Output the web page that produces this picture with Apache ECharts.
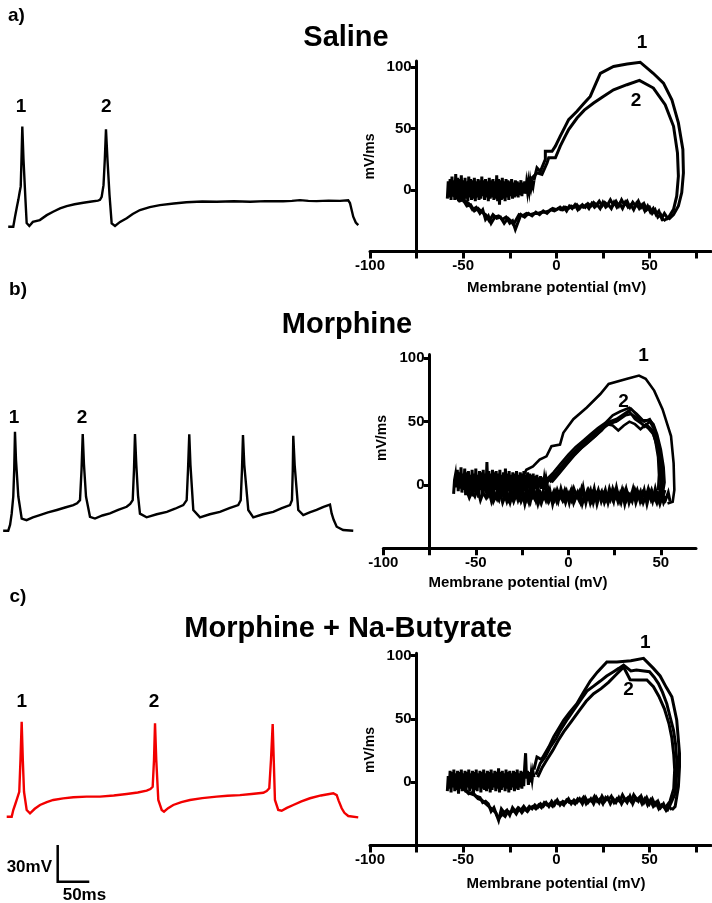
<!DOCTYPE html>
<html>
<head>
<meta charset="utf-8">
<script src="https://cdn.jsdelivr.net/npm/echarts@6/dist/echarts.min.js"></script>
<style>
html, body { margin: 0; padding: 0; background: #fff; }
#chart { width: 712px; height: 903px; }
</style>
</head>
<body>
<div id="chart"></div>
<script>
// ---- voltage traces: [time (ms), membrane potential (mV)] ----
const traceSaline = [[13,-70],[21,-70],[23.7,-62],[27,-53],[29,-48],[31,-42],[32.8,-37],[34,-15],[35.3,12],[37.2,-15],[40.3,-48],[42.2,-67],[46.4,-69.4],[52,-66],[63,-64.5],[74,-60.5],[84,-57.7],[95,-55],[105.5,-53.1],[118,-51.6],[131.8,-50.4],[145,-49.3],[155,-48.6],[158.2,-48],[160.9,-45.5],[163.8,-36],[165.8,-15.5],[167.7,9.6],[170.1,-15.5],[173.3,-44],[176.7,-67.2],[182,-69.4],[190,-66],[200.5,-63],[210,-59.5],[221.5,-56.3],[237,-54],[253,-52.3],[275,-51],[295,-50],[320,-49.4],[343,-49.6],[370,-49.2],[396,-49.6],[420,-49],[448,-49.2],[462,-48.8],[474.7,-48.2],[488,-48.8],[501,-49],[520,-48.6],[538,-48.8],[551,-48.4],[553.8,-50.6],[559,-61.8],[563,-66.5],[567,-68.6]]
const traceMorphine = [[5,-70],[13,-70],[16,-65],[18.5,-56],[21,-42],[22.5,-20],[23.7,11],[25.3,-12],[29,-42],[34.3,-60],[42,-61.3],[52,-59],[63,-57.2],[76,-55],[90,-53],[103,-51],[116,-49],[122,-47.5],[126.6,-45],[129,-20.4],[130.9,9],[132.9,-16],[136.1,-42],[142.4,-58.6],[150.3,-60],[162,-57.5],[174,-55.8],[187,-53],[200.5,-50.4],[206,-48],[210,-45],[212,-20.4],[213.6,9],[215.7,-16],[218.4,-41],[221.5,-56],[232,-59],[248,-56.5],[264,-54.5],[277,-52],[290,-49],[293,-47.5],[295.4,-45],[297.5,-20.4],[299.5,8.8],[301.4,-16.3],[305.9,-53],[316.5,-59],[332,-56.5],[348,-54.5],[363,-51.5],[377,-49],[380.9,-45],[382.9,-20.4],[384.5,8.2],[386.6,-16.3],[392.9,-53],[400.8,-59],[416,-56.5],[432.4,-54.5],[446,-51.5],[458.9,-49],[462,-45],[463.3,-20.4],[464.1,7.7],[466.3,-16.3],[472,-53],[479.9,-57.2],[490,-55],[501,-53],[512,-50.5],[522.2,-48.6],[524.8,-55.8],[528,-61],[532.8,-66.7],[543,-69.4],[559,-70]]
const traceButyrate = [[10.6,-70],[18.5,-70],[21,-64.5],[24,-60],[26.4,-56.3],[30.5,-49.6],[32.4,-23.6],[34.3,7.7],[36.1,-23.6],[38,-49.6],[42.2,-64.5],[47.5,-67.2],[55,-63.5],[63.3,-60.4],[74,-58],[84.3,-56.3],[100,-55],[116,-54.1],[137,-53.6],[158.2,-53.6],[180,-52.6],[200.5,-51.4],[218,-50.2],[232.1,-48.7],[238,-47.4],[241.6,-45.5],[243.7,-23.6],[245.3,6.4],[247.3,-23.6],[250.5,-56.3],[255.9,-64.5],[259.5,-65.9],[266,-63],[274.2,-60.4],[287,-58],[300.6,-56.3],[320,-54.8],[342.9,-53.6],[360,-52.8],[379.7,-52.3],[398,-51.4],[416.6,-50.4],[422,-49],[426.1,-46.8],[428.8,-23.6],[431.5,5.8],[433.2,-23.6],[435.1,-56.3],[440.3,-64.5],[445.7,-65.1],[454,-62.8],[464.1,-60.4],[477,-57.5],[490.5,-54.9],[508,-52.6],[527.4,-50.8],[532.8,-52.3],[536,-57],[540.7,-63.1],[545,-66.8],[551.1,-69.4],[566.9,-70.5]]

// spike numbers above the traces: [ms, mV, text]
const traceTagsSaline = [[33.2,28.4,'1'],[168.2,28.4,'2']]
const traceTagsMorphine = [[22.4,22.5,'1'],[130,22.5,'2']]
const traceTagsButyrate = [[34.3,24,'1'],[243.7,24,'2']]

// scale bar
const scaleBarMv = 30
const scaleBarMs = 50

// ---- phase plots: [membrane potential (mV), dV/dt (mV/ms)] ----
// Saline
const restSaline = [[-58.5,-7],[-58,7],[-57.5,-6],[-57,9],[-56.5,-8],[-56,11],[-55.5,-5],[-55,8],[-54.5,-8],[-54,13],[-53.5,-5],[-53,10],[-52.5,-9],[-52,9],[-51.5,-6],[-51,12],[-50.5,-8],[-50,8],[-49.5,-10],[-49,10],[-48.5,-7],[-48,7],[-47.5,-9],[-47,11],[-46.5,-6],[-46,9],[-45.5,-8],[-45,8],[-44.5,-7],[-44,10],[-43.5,-9],[-43,7],[-42.5,-6],[-42,9],[-41.5,-8],[-41,8],[-40.5,-7],[-40,11],[-39.5,-5],[-39,8],[-38.5,-8],[-38,9],[-37.5,-6],[-37,7],[-36.5,-9],[-36,10],[-35.5,-7],[-35,8],[-34.5,-6],[-34,9],[-33.5,-8],[-33,7],[-32.5,-7],[-32,12],[-31.5,-9],[-31,9],[-30.5,-12],[-30,8],[-29.5,-8],[-29,10],[-28.5,-7],[-28,7],[-27.5,-9],[-27,9],[-26.5,-6],[-26,8],[-25.5,-8],[-25,7],[-24.5,-5],[-24,9],[-23.5,-7],[-23,6],[-22.5,-6],[-22,8],[-21.5,-5],[-21,7],[-20.5,-6],[-20,6],[-19.5,-4],[-19,8],[-18.5,-5],[-18,6],[-17.5,-3],[-17,7],[-16.5,-3],[-16,5],[-15.5,-1],[-15,6],[-14.5,0],[-14,7],[-13.5,2],[-13,6],[-12.5,3],[-12,8]]
const spike1Saline = [[-12,8],[-10.4,18],[-8.6,15],[-5.9,25],[-5.9,31.6],[-2.3,31.6],[-0.5,35.7],[2.1,43.8],[4.5,51],[6.6,57.3],[11.1,64.1],[14.5,70],[18.2,76.2],[21,86],[23.6,95],[30.7,100.5],[38,102.5],[45,104],[52,95],[57.5,87],[62,73.5],[65.5,54.6],[67.9,33],[68.2,14],[67.3,-2],[65.5,-13],[62.9,-20],[60.2,-24]]
const spike2Saline = [[-13.9,8.6],[-10.4,14],[-7.7,12.7],[-5,22],[-4.1,26.2],[-0.5,26.2],[2.1,35.7],[4.5,43],[6.6,49.2],[11.1,58.6],[15,65],[20,70.8],[25,76],[30.7,81.6],[37.9,85.7],[44.6,89.2],[52.1,83],[58.4,69.5],[62.9,51.9],[65,30.3],[65.5,11.4],[64.6,-5],[62.9,-15.7],[60.2,-22.4],[57.5,-25]]
const return1Saline = [[60.2,-24],[58,-19],[56.5,-23],[55,-17],[53.5,-20],[52,-15],[50.5,-18],[49,-13],[47.5,-17],[46,-12],[44.5,-15],[43,-11],[41.5,-16],[40,-12],[38.5,-14],[37,-10],[35.5,-15],[34,-11],[32.5,-14],[31,-10],[29.5,-15],[28,-12],[26.5,-14],[25,-10],[23.5,-15],[22,-12],[20.5,-14],[19,-11],[17.5,-15],[16,-12],[14.5,-14],[13,-13],[11.5,-16],[10,-12],[8.5,-15],[7,-13],[5.5,-17],[4,-14],[2.5,-16],[1,-15],[-1,-17],[-3,-16],[-5,-19],[-7,-17],[-9,-20],[-11,-18],[-13,-21],[-15,-19],[-17,-22],[-19,-20],[-20.5,-26],[-22,-32],[-23.5,-25],[-25,-27],[-27,-22],[-29,-24],[-31,-21],[-33,-22],[-35,-27],[-36.5,-21],[-38,-24],[-39.5,-16],[-41,-19],[-43,-14],[-45,-16],[-47,-11],[-49,-9],[-51,-7],[-53,-5],[-55,-3],[-57,-1]]
const return2Saline = [[57.5,-25],[56,-20],[54.5,-22],[53,-16],[51.5,-19],[50,-14],[48.5,-16],[47,-11],[45.5,-14],[44,-9],[42.5,-13],[41,-10],[39.5,-14],[38,-9],[36.5,-12],[35,-8],[33.5,-13],[32,-9],[30.5,-12],[29,-8],[27.5,-12],[26,-10],[24.5,-13],[23,-9],[21.5,-12],[20,-10],[18.5,-13],[17,-11],[15.5,-14],[14,-12],[12.5,-15],[11,-12],[9.5,-14],[8,-13],[6.5,-15],[5,-14],[3.5,-16],[2,-14],[0,-16],[-2,-15],[-4,-17],[-6,-18],[-8,-18],[-10,-19],[-12,-19],[-14,-20],[-16,-19],[-18,-21],[-20,-20],[-21.5,-24],[-23,-28],[-24.5,-25],[-26,-23],[-28,-27],[-30,-22],[-32,-23],[-34,-20],[-36,-25],[-38,-20],[-40,-18],[-42,-15],[-44,-17],[-46,-12],[-48,-13],[-50,-8],[-52,-9],[-54,-5],[-56,-4],[-58,-2]]

// Morphine
const restMorphine = [[-62,-7],[-61.5,4],[-61,8],[-60.5,-2],[-60,12],[-59.5,-5],[-59,10],[-58.5,-3],[-58,14],[-57.5,-6],[-57,9],[-56.5,-4],[-56,13],[-55.5,-8],[-55,10],[-54.5,-5],[-54,11],[-53.5,-7],[-53,8],[-52.5,-4],[-52,12],[-51.5,-9],[-51,9],[-50.5,-6],[-50,13],[-49.5,-5],[-49,8],[-48.5,-10],[-48,11],[-47.5,-4],[-47,10],[-46.5,-8],[-46,12],[-45.5,-5],[-45,9],[-44.5,-6],[-44,18],[-43.5,-4],[-43,11],[-42.5,-9],[-42,9],[-41.5,-5],[-41,12],[-40.5,-7],[-40,10],[-39.5,-4],[-39,11],[-38.5,-8],[-38,9],[-37.5,-6],[-37,12],[-36.5,-5],[-36,8],[-35.5,-9],[-35,10],[-34.5,-4],[-34,13],[-33.5,-7],[-33,9],[-32.5,-5],[-32,11],[-31.5,-8],[-31,8],[-30.5,-4],[-30,10],[-29.5,-6],[-29,9],[-28.5,-9],[-28,11],[-27.5,-5],[-27,8],[-26.5,-7],[-26,10],[-25.5,-4],[-25,9],[-24.5,-8],[-24,11],[-23.5,-5],[-23,8],[-22.5,-6],[-22,10],[-21.5,-3],[-21,9],[-20.5,-7],[-20,8],[-19.5,-4],[-19,9],[-18.5,-5],[-18,7],[-17.5,-3],[-17,8],[-16.5,-4],[-16,6],[-15.5,-2],[-15,7],[-14.5,-3],[-14,6],[-13.5,-1],[-13,5],[-12.5,0],[-12,5],[-11.5,1],[-11,4]]
const spike1Morphine = [[-24,8],[-22.7,12],[-19.1,14.6],[-15.5,20],[-11.8,22.6],[-9.1,30.6],[-4.5,31.9],[-2.7,41.2],[2.7,51.9],[10,61.2],[17.3,71.8],[21.8,79.8],[31.8,83.8],[38.2,86.4],[41.8,83.8],[46.4,74.5],[50.9,59.8],[55.5,38.6],[56.9,17.3],[57.3,-4],[56.4,-13.3],[53.6,-14.6]]
const spike2Morphine = [[-12,4],[-8,10],[-4,17],[0,24],[4,30],[8,35],[12,40],[16,45],[20,49],[24,55],[28,58],[33,61],[37,56],[41,50],[44,52],[46,47],[48,38],[49.5,28],[50.5,15],[51,3],[50.5,-6]]
const spike3Morphine = [[-11,3],[-7,9],[-3,16],[1,23],[5,29],[9,34],[13,39],[17,44],[21,48],[26,50],[30,55],[33,58],[36,52],[40,48],[43,45],[46,40],[48,30],[49.5,18],[50,5],[49.5,-5]]
const spike4Morphine = [[-10,2],[-6,8],[-2,15],[2,22],[6,28],[10,33],[14,38],[18,43],[21,48],[24,47],[27,43],[30,47],[33,50],[36,48],[39,44],[42,48],[45,44],[47,35],[48.5,22],[49,8],[48.5,-4]]
const spike5Morphine = [[-9,2],[-5,9],[-1,16],[3,23],[7,29],[11,34],[15,39],[19,45],[23,49],[27,51],[31,55],[34,56],[38,52],[41,46],[44,50],[46,45],[48,34],[50,20],[50.5,6],[50,-5]]
const spike6Morphine = [[-10,3],[-6,10],[-2,17],[2,24],[6,30],[10,36],[14,41],[18,46],[22,50],[26,52],[30,56],[34,60],[37,55],[40,51],[44,51],[46,48],[48,40],[50,28],[51.5,14],[52,2],[51,-7]]
const return1Morphine = [[53,-9],[51.5,-14],[50,-5],[48.5,-12],[47,-3],[45.5,-13],[44,-6],[42.5,-15],[41,-4],[39.5,-12],[38,-7],[36.5,-14],[35,-3],[33.5,-11],[32,-6],[30.5,-15],[29,-4],[27.5,-12],[26,-2],[24.5,-13],[23,-6],[21.5,-14],[20,-4],[18.5,-11],[17,-7],[15.5,-15],[14,-3],[12.5,-12],[11,-5],[9.5,-14],[8,-2],[6.5,-13],[5,-6],[3.5,-12],[2,-4],[0.5,-14],[-1,-5],[-2.5,-11],[-4,-3],[-5.5,-13],[-7,-6],[-8.5,-15],[-10,-4],[-11.5,-12],[-13,-7],[-14.5,-14],[-16,-5],[-17.5,-12],[-19,-3],[-20.5,-13],[-22,-6],[-23.5,-15],[-25,-4],[-26.5,-11],[-28,-7],[-29.5,-13],[-31,-5],[-32.5,-12],[-34,-8],[-35.5,-14],[-37,-5],[-38.5,-11],[-40,-6],[-41.5,-13],[-43,-4],[-44.5,-10],[-46,-6],[-47.5,-12],[-49,-3],[-50.5,-9],[-52,-5],[-53.5,-10],[-55,-4]]
const return2Morphine = [[55,-13],[54,-6],[52.5,-12],[51,-8],[49.5,-15],[48,-7],[46.5,-11],[45,-4],[43.5,-10],[42,-8],[40.5,-14],[39,-5],[37.5,-10],[36,-4],[34.5,-13],[33,-8],[31.5,-12],[30,-5],[28.5,-14],[27,-7],[25.5,-10],[24,-3],[22.5,-12],[21,-8],[19.5,-14],[18,-5],[16.5,-9],[15,-6],[13.5,-14],[12,-4],[10.5,-10],[9,-7],[7.5,-15],[6,-5],[4.5,-9],[3,-3],[1.5,-12],[0,-7],[-1.5,-14],[-3,-6],[-4.5,-10],[-6,-4],[-7.5,-12],[-9,-8],[-10.5,-13],[-12,-5],[-13.5,-10],[-15,-6],[-16.5,-15],[-18,-7],[-19.5,-10],[-21,-4],[-22.5,-12],[-24,-8],[-25.5,-13],[-27,-4],[-28.5,-9],[-30,-6],[-31.5,-14],[-33,-7],[-34.5,-10],[-36,-3],[-37.5,-12],[-39,-8],[-40.5,-13],[-42,-5],[-43.5,-9],[-45,-3]]
const return3Morphine = [[52.2,-4],[50.8,-11],[49.2,-6],[47.8,-14],[46.2,-8],[44.8,-12],[43.2,-3],[41.8,-10],[40.2,-6],[38.8,-13],[37.2,-4],[35.8,-9],[34.2,-7],[32.8,-14],[31.2,-3],[29.8,-10],[28.2,-6],[26.8,-13],[25.2,-5],[23.8,-11],[22.2,-3],[20.8,-12],[19.2,-7],[17.8,-13],[16.2,-4],[14.8,-10],[13.2,-6],[11.8,-14],[10.2,-5],[8.8,-11],[7.2,-3],[5.8,-12],[4.2,-7],[2.8,-14],[1.2,-5],[-0.2,-10],[-1.8,-4],[-3.2,-12],[-4.8,-7],[-6.2,-13],[-7.8,-5],[-9.2,-10],[-10.8,-3],[-12.2,-12],[-13.8,-6],[-15.2,-13],[-16.8,-4],[-18.2,-11],[-19.8,-7],[-21.2,-14],[-22.8,-5],[-24.2,-10],[-25.8,-6],[-27.2,-12],[-28.8,-4],[-30.2,-11],[-31.8,-7],[-33.2,-13],[-34.8,-5],[-36.2,-9],[-37.8,-4],[-39.2,-12]]

// Morphine + Na-Butyrate
const restButyrate = [[-58.5,-7],[-58,5],[-57.5,-5],[-57,9],[-56.5,-8],[-56,8],[-55.5,-4],[-55,10],[-54.5,-7],[-54,7],[-53.5,-6],[-53,9],[-52.5,-9],[-52,8],[-51.5,-5],[-51,10],[-50.5,-7],[-50,7],[-49.5,-6],[-49,9],[-48.5,-8],[-48,8],[-47.5,-4],[-47,10],[-46.5,-7],[-46,7],[-45.5,-5],[-45,9],[-44.5,-9],[-44,8],[-43.5,-6],[-43,10],[-42.5,-7],[-42,7],[-41.5,-4],[-41,9],[-40.5,-8],[-40,8],[-39.5,-5],[-39,10],[-38.5,-6],[-38,7],[-37.5,-7],[-37,9],[-36.5,-5],[-36,8],[-35.5,-8],[-35,10],[-34.5,-6],[-34,7],[-33.5,-4],[-33,9],[-32.5,-7],[-32,8],[-31.5,-5],[-31,11],[-30.5,-8],[-30,8],[-29.5,-6],[-29,9],[-28.5,-4],[-28,7],[-27.5,-7],[-27,10],[-26.5,-5],[-26,8],[-25.5,-8],[-25,9],[-24.5,-6],[-24,7],[-23.5,-4],[-23,9],[-22.5,-7],[-22,8],[-21.5,-5],[-21,10],[-20.5,-6],[-20,7],[-19.5,-4],[-19,9],[-18.5,-5],[-18,8],[-17.5,-3],[-17,12],[-16.5,23],[-16,3],[-15.5,9],[-15,-2],[-14.5,8],[-14,0],[-13.5,7],[-13,2],[-12.5,8],[-12,4]]
const spike1Butyrate = [[-12,10],[-10.4,20],[-8,18],[-6.8,21],[-4,28],[-1.4,36],[1.5,43],[3.9,49],[7,55],[11,62],[14.5,71],[18.2,80],[22,87],[27.1,95],[32.5,95],[40,96],[46.8,97.9],[52.1,90],[55.7,84],[59,75],[62,67.6],[64.6,49.2],[66.1,23],[66.1,12.4],[65.5,-3.4],[63.75,-19.2],[62,-21.8]]
const spike2Butyrate = [[-11,6],[-8.6,15],[-6,20],[-3.2,28],[0,35],[2.1,41],[6,50],[9.3,57],[13,65],[16.4,72],[20,76],[23.6,80],[27,84],[30.7,87.4],[33.5,90],[36.1,92.6],[40,88],[43,88.7],[47,88],[50,87.4],[52.5,83],[54.8,78],[57,71],[59.3,62],[61,52],[62.9,41],[64,30],[64.6,18],[64.5,5],[63.75,-9],[61,-18],[59.3,-23]]
const spike3Butyrate = [[-10,4],[-7.5,12],[-5,18],[-2,25],[1,33],[4,40],[8,48],[12,56],[16,64],[20,70],[24,74],[28,79],[32,85],[36.1,91],[39.6,81],[44,80.8],[48.6,80.8],[52.1,75.5],[55,68],[58,58],[60.5,46],[62,35],[63,22],[63.5,10],[63,-5],[61,-15],[58,-21]]
const return1Butyrate = [[62,-21.8],[60.5,-19],[59,-22],[57.5,-17],[56,-20],[54.5,-15],[53,-18],[51.5,-13],[50,-17],[48.5,-12],[47,-16],[45.5,-11],[44,-15],[42.5,-12],[41,-17],[39.5,-11],[38,-16],[36.5,-13],[35,-17],[33.5,-12],[32,-16],[30.5,-13],[29,-17],[27.5,-12],[26,-15],[24.5,-11],[23,-16],[21.5,-12],[20,-17],[18.5,-13],[17,-16],[15.5,-12],[14,-17],[12.5,-13],[11,-16],[9.5,-14],[8,-17],[6.5,-13],[5,-16],[3.5,-15],[2,-18],[0.5,-14],[-1,-18],[-2.5,-15],[-4,-19],[-5.5,-16],[-7,-19],[-8.5,-17],[-10,-20],[-11.5,-18],[-13,-21],[-14.5,-19],[-16,-22],[-17.5,-19],[-19,-22],[-20.5,-20],[-22,-23],[-23.5,-20],[-25,-26],[-26.5,-22],[-28,-24],[-29.5,-21],[-31,-30],[-32.5,-24],[-34,-22],[-35.5,-20],[-37,-18],[-38.5,-16],[-40,-14],[-42,-13],[-44,-10],[-46,-9],[-48,-7],[-50,-5]]
const return2Butyrate = [[59.3,-23],[58,-20],[56.5,-18],[55,-21],[53.5,-16],[52,-19],[50.5,-14],[49,-18],[47.5,-13],[46,-17],[44.5,-12],[43,-14],[41.5,-10],[40,-15],[38.5,-12],[37,-14],[35.5,-10],[34,-15],[32.5,-13],[31,-16],[29.5,-11],[28,-14],[26.5,-12],[25,-17],[23.5,-13],[22,-15],[20.5,-11],[19,-15],[17.5,-14],[16,-17],[14.5,-12],[13,-15],[11.5,-13],[10,-17],[8.5,-15],[7,-16],[5.5,-14],[4,-18],[2.5,-16],[1,-17],[-0.5,-15],[-2,-19],[-3.5,-17],[-5,-18],[-6.5,-16],[-8,-20],[-9.5,-18],[-11,-21],[-12.5,-19],[-14,-20],[-15.5,-23],[-17,-21],[-18.5,-24],[-20,-21],[-21.5,-25],[-23,-22],[-24.5,-24],[-26,-23],[-27.5,-27],[-29,-25],[-30.5,-28],[-32,-26],[-33.5,-20],[-35,-23],[-36.5,-17],[-38,-15],[-39.5,-16],[-41,-12],[-43,-11],[-45,-8],[-47,-9],[-49,-6],[-51,-4]]

// spike numbers in the phase plots: [mV, mV/ms, text]
const phaseTagsSaline = [[46,120,'1'],[42.8,72.6,'2']]
const phaseTagsMorphine = [[40.7,101.8,'1'],[29.9,65.7,'2']]
const phaseTagsButyrate = [[47.7,110.6,'1'],[38.8,73.5,'2']]

// axis ticks
const xTickValues = [-100, -75, -50, -25, 0, 25, 50, 75]
const xLabelValues = [-100, -50, 0, 50]
const yTickValues = [0, 50, 100]
const yAxisCross = -75

const FONT = '"Liberation Sans", Arial, Helvetica, sans-serif'
const INK = '#000'
const RED = '#f20000'

// layout: one grid per trace, one per phase plot
const traceRange = { x: [0, 570] }
const panels = [
  { title: 'Saline', trace: { left: 0, top: 92.2, width: 360.2, height: 146.8, y: [-80, 40] },
    phase: { left: 370, top: 61, width: 341, height: 190.5, x: [-100, 83], y: [-50, 105] } },
  { title: 'Morphine', trace: { left: 0, top: 396.2, width: 360.2, height: 146.8, y: [-80, 40] },
    phase: { left: 383.3, top: 354.5, width: 312.7, height: 193.8, x: [-100, 69], y: [-50, 103] } },
  { title: 'Morphine + Na-Butyrate', trace: { left: 0, top: 682.2, width: 360.2, height: 207.9, y: [-130, 40] },
    phase: { left: 370, top: 653.2, width: 341, height: 192.4, x: [-100, 83], y: [-50, 102] } }
]

const grid = []
const xAxis = []
const yAxis = []
panels.forEach(p => {
  const t = p.trace, f = p.phase
  grid.push({ left: t.left, top: t.top, width: t.width, height: t.height, outerBoundsMode: 'none' })
  xAxis.push({ type: 'value', gridIndex: grid.length - 1, min: traceRange.x[0], max: traceRange.x[1], show: false })
  yAxis.push({ type: 'value', gridIndex: grid.length - 1, min: t.y[0], max: t.y[1], show: false })

  grid.push({ left: f.left, top: f.top, width: f.width, height: f.height, outerBoundsMode: 'none' })
  const gi = grid.length - 1
  xAxis.push({
    type: 'value', gridIndex: gi, min: f.x[0], max: f.x[1], position: 'bottom',
    axisLine: { show: true, onZero: false, lineStyle: { color: INK, width: 3 } },
    axisTick: { show: true, length: 7, customValues: xTickValues.filter(v => v <= f.x[1]), lineStyle: { color: INK, width: 3 } },
    axisLabel: { customValues: xLabelValues, margin: 7, color: INK, fontSize: 15, fontWeight: 'bold', fontFamily: FONT },
    splitLine: { show: false }
  })
  // y axis crosses the x axis at -75 mV
  const shift = (yAxisCross - f.x[0]) / (f.x[1] - f.x[0]) * f.width
  yAxis.push({
    type: 'value', gridIndex: gi, min: f.y[0], max: f.y[1], position: 'left', offset: -shift,
    axisLine: { show: true, onZero: false, lineStyle: { color: INK, width: 3 } },
    axisTick: { show: true, length: 6, customValues: yTickValues, lineStyle: { color: INK, width: 3 } },
    axisLabel: { customValues: yTickValues, margin: 5, color: INK, fontSize: 15, fontWeight: 'bold', fontFamily: FONT },
    splitLine: { show: false }
  })
})

function line(idx, data, color, width) {
  return {
    type: 'line', xAxisIndex: idx, yAxisIndex: idx, data: data,
    symbol: 'none', silent: true, clip: false,
    lineStyle: { color: color, width: width, join: 'miter', cap: 'butt' }
  }
}

// scale bar corner, in the bottom trace's ms / mV
const barCorner = [91.3, -123.1]
const scaleBar = [[barCorner[0], barCorner[1] + scaleBarMv], barCorner, [barCorner[0] + scaleBarMs, barCorner[1]]]

const series = [
  line(0, traceSaline, INK, 2.4),
  line(1, restSaline, INK, 3),
  line(1, return1Saline, INK, 3),
  line(1, return2Saline, INK, 3),
  line(1, spike1Saline, INK, 3),
  line(1, spike2Saline, INK, 3),

  line(2, traceMorphine, INK, 2.4),
  line(3, restMorphine, INK, 3),
  line(3, return1Morphine, INK, 3),
  line(3, return2Morphine, INK, 3),
  line(3, return3Morphine, INK, 3),
  line(3, spike1Morphine, INK, 2.6),
  line(3, spike2Morphine, INK, 2.6),
  line(3, spike3Morphine, INK, 2.6),
  line(3, spike4Morphine, INK, 2.6),
  line(3, spike5Morphine, INK, 2.6),
  line(3, spike6Morphine, INK, 2.6),

  line(4, traceButyrate, RED, 2.4),
  line(4, scaleBar, INK, 2.5),
  line(5, restButyrate, INK, 3),
  line(5, return1Butyrate, INK, 3),
  line(5, return2Butyrate, INK, 3),
  line(5, spike1Butyrate, INK, 3),
  line(5, spike2Butyrate, INK, 3),
  line(5, spike3Butyrate, INK, 3)
]

function text(x, y, str, size, opts) {
  return Object.assign({
    type: 'text', x: x, y: y, silent: true,
    style: { text: str, fill: INK, font: 'bold ' + size + 'px ' + FONT, align: 'center', verticalAlign: 'middle' }
  }, opts || {})
}
function textAligned(x, y, str, size, align) {
  const t = text(x, y, str, size)
  t.style.align = align
  return t
}

const graphic = [
  text(16.5, 15.5, 'a)', 19),
  text(18, 290, 'b)', 19),
  text(18, 597, 'c)', 19),
  text(346, 38, panels[0].title, 29),
  text(347, 325, panels[1].title, 29),
  text(348.3, 629, panels[2].title, 29),
  text(370, 156.5, 'mV/ms', 14, { rotation: Math.PI / 2 }),
  text(381.7, 438, 'mV/ms', 14, { rotation: Math.PI / 2 }),
  text(370, 750, 'mV/ms', 14, { rotation: Math.PI / 2 }),
  text(556.7, 288, 'Membrane potential (mV)', 15),
  text(518, 583, 'Membrane potential (mV)', 15),
  text(556, 884, 'Membrane potential (mV)', 15),
  textAligned(52, 867, scaleBarMv + 'mV', 17, 'right'),
  textAligned(62.7, 895, scaleBarMs + 'ms', 17, 'left')
]

const chart = echarts.init(document.getElementById('chart'), null, { renderer: 'canvas' })
chart.setOption({
  animation: false,
  backgroundColor: '#fff',
  grid: grid,
  xAxis: xAxis,
  yAxis: yAxis,
  series: series,
  graphic: graphic
})

// spike numbers, placed through each grid's own scales
const tagSets = [
  [0, traceTagsSaline], [1, phaseTagsSaline],
  [2, traceTagsMorphine], [3, phaseTagsMorphine],
  [4, traceTagsButyrate], [5, phaseTagsButyrate]
]
const tagGraphics = []
tagSets.forEach(([idx, list]) => {
  list.forEach(d => {
    const p = chart.convertToPixel({ xAxisIndex: idx, yAxisIndex: idx }, [d[0], d[1]])
    tagGraphics.push(text(p[0], p[1], d[2], 19))
  })
})
chart.setOption({ graphic: graphic.concat(tagGraphics) })
</script>
</body>
</html>
